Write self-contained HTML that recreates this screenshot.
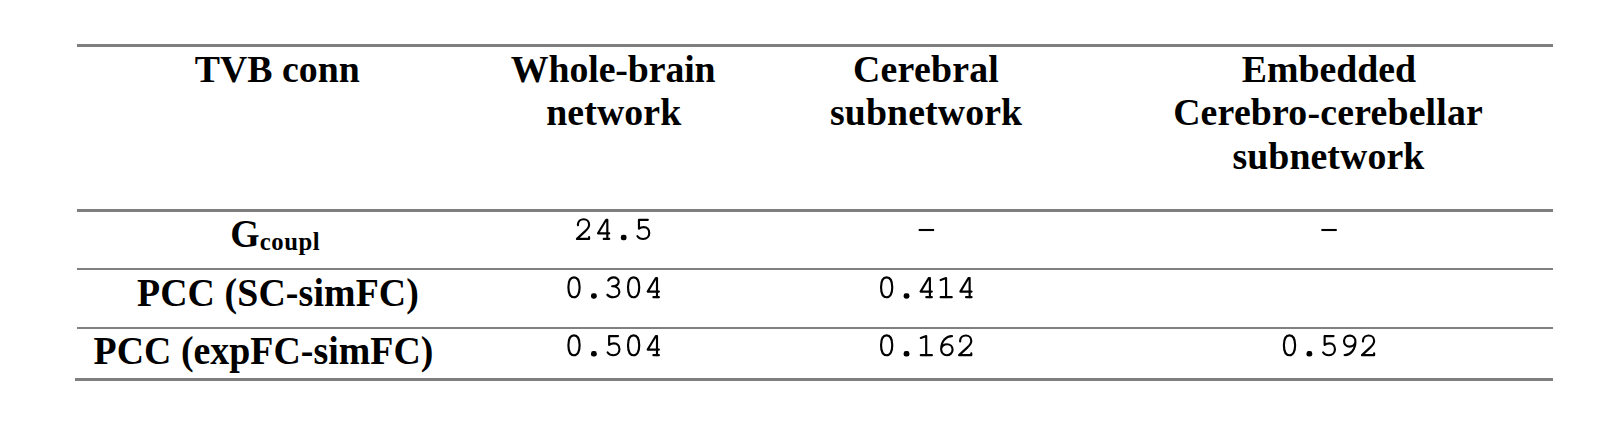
<!DOCTYPE html>
<html>
<head>
<meta charset="utf-8">
<style>
html,body{margin:0;padding:0;background:#fff;}
body{width:1616px;height:438px;overflow:hidden;}
svg{display:block;}
.s{font-family:"Liberation Serif",serif;font-weight:bold;fill:#000;}
.d{fill:none;stroke:#000;stroke-width:2.15;stroke-linecap:round;stroke-linejoin:round;}
</style>
</head>
<body>
<svg width="1616" height="438" viewBox="0 0 1616 438">
<rect x="77" y="44" width="1476" height="3" fill="#7f7f7f"/>
<rect x="77" y="209" width="1476" height="3" fill="#7f7f7f"/>
<rect x="77" y="268" width="1476" height="2" fill="#808080"/>
<rect x="77" y="327" width="1476" height="2" fill="#808080"/>
<rect x="75" y="378" width="1478" height="3" fill="#7f7f7f"/>
<text id="h1" class="s" font-size="37.8" letter-spacing="0.028" transform="translate(194.70,81.7) scale(1,1.03)">TVB conn</text>
<text id="h2a" class="s" font-size="37.8" letter-spacing="-0.096" transform="translate(510.86,81.7) scale(1,1.02)">Whole-brain</text>
<text id="h2b" class="s" font-size="37.8" letter-spacing="0.133" transform="translate(546.15,125.2) scale(1,1.02)">network</text>
<text id="h3a" class="s" font-size="37.8" letter-spacing="0.250" transform="translate(853.06,81.7) scale(1,1.02)">Cerebral</text>
<text id="h3b" class="s" font-size="37.8" letter-spacing="0.118" transform="translate(829.96,125.2) scale(1,1.02)">subnetwork</text>
<text id="h4a" class="s" font-size="37.8" letter-spacing="0.025" transform="translate(1241.70,81.7) scale(1,1.02)">Embedded</text>
<text id="h4b" class="s" font-size="37.8" letter-spacing="0.205" transform="translate(1173.13,125.2) scale(1,1.02)">Cerebro-cerebellar</text>
<text id="h4c" class="s" font-size="37.8" letter-spacing="0.092" transform="translate(1232.41,168.7) scale(1,1.02)">subnetwork</text>
<text id="r1g" class="s" font-size="37.8" letter-spacing="0.000" transform="translate(230.28,246.5) scale(1,1.05)">G</text>
<text id="r1s" class="s" font-size="24.7" letter-spacing="0.562" transform="translate(259.71,249.7) scale(1,1.02)">coupl</text>
<text id="r2" class="s" font-size="37.8" letter-spacing="0.137" transform="translate(136.91,305.7) scale(1,1.04)">PCC (SC-simFC)</text>
<text id="r3" class="s" font-size="37.8" letter-spacing="0.050" transform="translate(93.60,364.2) scale(1,1.04)">PCC (expFC-simFC)</text>
<path class="d" transform="translate(583.95,239.85)" d="M -6.0,-14.6 L -6.0,-15.6 C -5.8,-18.5 -3.3,-20.6 -0.3,-20.6 C 2.8,-20.6 5.15,-18.3 5.15,-15.2 C 5.15,-12.8 4,-11.4 1.6,-9 L -7.0,-0.95 L 5.15,-0.95 L 5.15,-2.7"/><path class="d" transform="translate(603.82,239.85)" d="M 3.5,-0.95 L 3.5,-20.1 L 2.4,-20.1 L -5.8,-6.55 L 5.4,-6.55"/><path class="d" transform="translate(603.82,239.85)" d="M -0.1,-0.95 L 5.4,-0.95"/><rect x="620.79" y="234.85" width="5.8" height="5.5" rx="2.3" ry="2.3" fill="#000"/><path class="d" transform="translate(643.56,239.85)" d="M 4.3,-20.05 L -4.6,-20.05 L -4.6,-11.2 C -3.2,-12.2 -1.6,-12.7 0.3,-12.7 C 3.5,-12.7 5.7,-10.2 5.7,-6.8 C 5.7,-3.3 3.2,-0.85 -0.3,-0.85 C -2.8,-0.85 -4.9,-1.9 -6.1,-3.6"/>
<rect x="918.70" y="228.95" width="15.4" height="2.1" fill="#000"/>
<rect x="1321.35" y="228.95" width="15.4" height="2.1" fill="#000"/>
<path class="d" transform="translate(574.01,298.15)" d="M -5.6,-10.8 C -5.6,-17.3 -3.4,-20.75 0,-20.75 C 3.4,-20.75 5.6,-17.3 5.6,-10.8 C 5.6,-4.3 3.4,-0.85 0,-0.85 C -3.4,-0.85 -5.6,-4.3 -5.6,-10.8 Z"/><rect x="590.98" y="293.15" width="5.8" height="5.5" rx="2.3" ry="2.3" fill="#000"/><path class="d" transform="translate(613.75,298.15)" d="M -5.5,-17.7 C -4.5,-19.6 -2.6,-20.8 -0.3,-20.8 C 2.7,-20.8 4.9,-19 4.9,-16.4 C 4.9,-13.6 2.2,-11.9 -1.6,-11.9 C 2.6,-11.9 5.6,-9.8 5.6,-6.3 C 5.6,-3 2.9,-0.85 -0.4,-0.85 C -3,-0.85 -5.2,-1.8 -6.4,-3.4"/><path class="d" transform="translate(633.62,298.15)" d="M -5.6,-10.8 C -5.6,-17.3 -3.4,-20.75 0,-20.75 C 3.4,-20.75 5.6,-17.3 5.6,-10.8 C 5.6,-4.3 3.4,-0.85 0,-0.85 C -3.4,-0.85 -5.6,-4.3 -5.6,-10.8 Z"/><path class="d" transform="translate(653.49,298.15)" d="M 3.5,-0.95 L 3.5,-20.1 L 2.4,-20.1 L -5.8,-6.55 L 5.4,-6.55"/><path class="d" transform="translate(653.49,298.15)" d="M -0.1,-0.95 L 5.4,-0.95"/>
<path class="d" transform="translate(886.66,298.15)" d="M -5.6,-10.8 C -5.6,-17.3 -3.4,-20.75 0,-20.75 C 3.4,-20.75 5.6,-17.3 5.6,-10.8 C 5.6,-4.3 3.4,-0.85 0,-0.85 C -3.4,-0.85 -5.6,-4.3 -5.6,-10.8 Z"/><rect x="903.63" y="293.15" width="5.8" height="5.5" rx="2.3" ry="2.3" fill="#000"/><path class="d" transform="translate(926.40,298.15)" d="M 3.5,-0.95 L 3.5,-20.1 L 2.4,-20.1 L -5.8,-6.55 L 5.4,-6.55"/><path class="d" transform="translate(926.40,298.15)" d="M -0.1,-0.95 L 5.4,-0.95"/><path class="d" transform="translate(946.27,298.15)" d="M -5.6,-18.1 L -0.2,-20.1 L -0.2,-0.95"/><path class="d" transform="translate(946.27,298.15)" d="M -5.6,-0.95 L 5.5,-0.95"/><path class="d" transform="translate(966.14,298.15)" d="M 3.5,-0.95 L 3.5,-20.1 L 2.4,-20.1 L -5.8,-6.55 L 5.4,-6.55"/><path class="d" transform="translate(966.14,298.15)" d="M -0.1,-0.95 L 5.4,-0.95"/>
<path class="d" transform="translate(574.01,356.10)" d="M -5.6,-10.8 C -5.6,-17.3 -3.4,-20.75 0,-20.75 C 3.4,-20.75 5.6,-17.3 5.6,-10.8 C 5.6,-4.3 3.4,-0.85 0,-0.85 C -3.4,-0.85 -5.6,-4.3 -5.6,-10.8 Z"/><rect x="590.98" y="351.10" width="5.8" height="5.5" rx="2.3" ry="2.3" fill="#000"/><path class="d" transform="translate(613.75,356.10)" d="M 4.3,-20.05 L -4.6,-20.05 L -4.6,-11.2 C -3.2,-12.2 -1.6,-12.7 0.3,-12.7 C 3.5,-12.7 5.7,-10.2 5.7,-6.8 C 5.7,-3.3 3.2,-0.85 -0.3,-0.85 C -2.8,-0.85 -4.9,-1.9 -6.1,-3.6"/><path class="d" transform="translate(633.62,356.10)" d="M -5.6,-10.8 C -5.6,-17.3 -3.4,-20.75 0,-20.75 C 3.4,-20.75 5.6,-17.3 5.6,-10.8 C 5.6,-4.3 3.4,-0.85 0,-0.85 C -3.4,-0.85 -5.6,-4.3 -5.6,-10.8 Z"/><path class="d" transform="translate(653.49,356.10)" d="M 3.5,-0.95 L 3.5,-20.1 L 2.4,-20.1 L -5.8,-6.55 L 5.4,-6.55"/><path class="d" transform="translate(653.49,356.10)" d="M -0.1,-0.95 L 5.4,-0.95"/>
<path class="d" transform="translate(886.66,356.10)" d="M -5.6,-10.8 C -5.6,-17.3 -3.4,-20.75 0,-20.75 C 3.4,-20.75 5.6,-17.3 5.6,-10.8 C 5.6,-4.3 3.4,-0.85 0,-0.85 C -3.4,-0.85 -5.6,-4.3 -5.6,-10.8 Z"/><rect x="903.63" y="351.10" width="5.8" height="5.5" rx="2.3" ry="2.3" fill="#000"/><path class="d" transform="translate(926.40,356.10)" d="M -5.6,-18.1 L -0.2,-20.1 L -0.2,-0.95"/><path class="d" transform="translate(926.40,356.10)" d="M -5.6,-0.95 L 5.5,-0.95"/><path class="d" transform="translate(946.27,356.10)" d="M 5.7,-20.0 C 0,-20.2 -5.1,-15 -5.1,-6.8 C -5.1,-3.3 -2.7,-0.9 0.6,-0.9 C 3.8,-0.9 6.3,-3.2 6.3,-6.4 C 6.3,-9.5 3.9,-11.9 0.8,-11.9 C -2,-11.9 -4.3,-10.2 -5.05,-7.6"/><path class="d" transform="translate(966.14,356.10)" d="M -6.0,-14.6 L -6.0,-15.6 C -5.8,-18.5 -3.3,-20.6 -0.3,-20.6 C 2.8,-20.6 5.15,-18.3 5.15,-15.2 C 5.15,-12.8 4,-11.4 1.6,-9 L -7.0,-0.95 L 5.15,-0.95 L 5.15,-2.7"/>
<path class="d" transform="translate(1289.51,356.10)" d="M -5.6,-10.8 C -5.6,-17.3 -3.4,-20.75 0,-20.75 C 3.4,-20.75 5.6,-17.3 5.6,-10.8 C 5.6,-4.3 3.4,-0.85 0,-0.85 C -3.4,-0.85 -5.6,-4.3 -5.6,-10.8 Z"/><rect x="1306.48" y="351.10" width="5.8" height="5.5" rx="2.3" ry="2.3" fill="#000"/><path class="d" transform="translate(1329.25,356.10)" d="M 4.3,-20.05 L -4.6,-20.05 L -4.6,-11.2 C -3.2,-12.2 -1.6,-12.7 0.3,-12.7 C 3.5,-12.7 5.7,-10.2 5.7,-6.8 C 5.7,-3.3 3.2,-0.85 -0.3,-0.85 C -2.8,-0.85 -4.9,-1.9 -6.1,-3.6"/><path class="d" transform="translate(1349.12,356.10)" d="M -4.5,-1.05 C 1.2,-0.85 6.3,-6.3 6.3,-14.5 C 6.3,-18.0 3.9,-20.55 0.6,-20.55 C -2.6,-20.55 -5.1,-18.2 -5.1,-15 C -5.1,-11.9 -2.7,-9.5 0.4,-9.5 C 3.2,-9.5 5.5,-11.2 6.25,-13.8"/><path class="d" transform="translate(1368.99,356.10)" d="M -6.0,-14.6 L -6.0,-15.6 C -5.8,-18.5 -3.3,-20.6 -0.3,-20.6 C 2.8,-20.6 5.15,-18.3 5.15,-15.2 C 5.15,-12.8 4,-11.4 1.6,-9 L -7.0,-0.95 L 5.15,-0.95 L 5.15,-2.7"/>
</svg>
</body>
</html>
